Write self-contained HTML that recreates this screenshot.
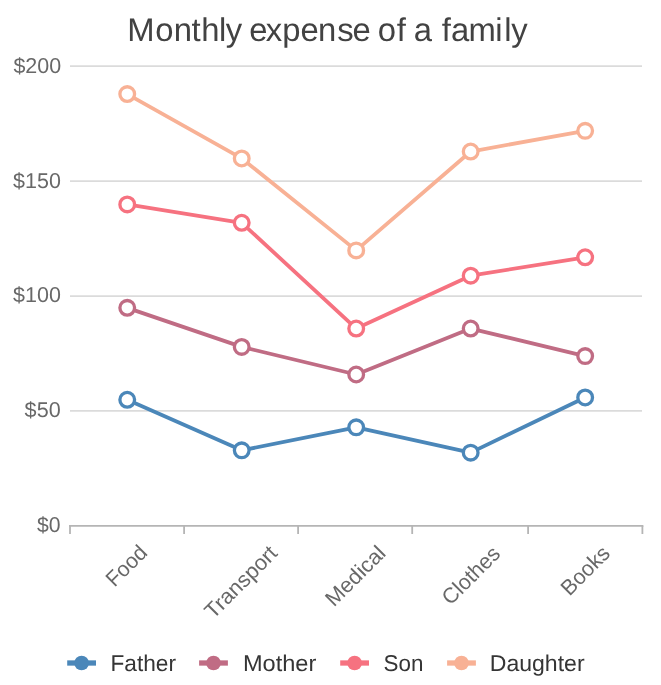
<!DOCTYPE html><html><head><meta charset="utf-8"><style>html,body{margin:0;padding:0;background:#fff;}svg{display:block;font-family:"Liberation Sans",sans-serif;will-change:transform;}text{text-rendering:geometricPrecision;}</style></head><body>
<svg width="661" height="685" viewBox="0 0 661 685">
<rect width="661" height="685" fill="#ffffff"/>
<g font-size="32.8" fill="#424242">
<text x="127.29" y="41.40">M</text>
<text x="155.23" y="41.40">o</text>
<text x="173.71" y="41.40">n</text>
<text x="191.47" y="41.40">t</text>
<text x="201.31" y="41.40">h</text>
<text x="219.10" y="41.40">l</text>
<text x="225.64" y="41.40">y</text>
<text x="249.21" y="41.40">e</text>
<text x="265.74" y="41.40">x</text>
<text x="282.26" y="41.40">p</text>
<text x="300.41" y="41.40">e</text>
<text x="318.11" y="41.40">n</text>
<text x="337.14" y="41.40">s</text>
<text x="352.61" y="41.40">e</text>
<text x="377.68" y="41.40">o</text>
<text x="396.84" y="41.40">f</text>
<text x="413.68" y="41.40">a</text>
<text x="441.69" y="41.40">f</text>
<text x="450.88" y="41.40">a</text>
<text x="468.58" y="41.40">m</text>
<text x="495.16" y="41.40">i</text>
<text x="504.25" y="41.40">l</text>
<text x="511.14" y="41.40">y</text>
</g>
<line x1="70.0" x2="642.0" y1="410.97" y2="410.97" stroke="#dbdbdb" stroke-width="1.7"/>
<line x1="70.0" x2="642.0" y1="296.05" y2="296.05" stroke="#dbdbdb" stroke-width="1.7"/>
<line x1="70.0" x2="642.0" y1="181.12" y2="181.12" stroke="#dbdbdb" stroke-width="1.7"/>
<line x1="70.0" x2="642.0" y1="66.20" y2="66.20" stroke="#dbdbdb" stroke-width="1.7"/>
<line x1="69.0" x2="643.4" y1="525.9" y2="525.9" stroke="#b5b5b5" stroke-width="1.8"/>
<line x1="70.00" x2="70.00" y1="525.9" y2="534.0" stroke="#b5b5b5" stroke-width="1.8"/>
<line x1="184.10" x2="184.10" y1="525.9" y2="534.0" stroke="#b5b5b5" stroke-width="1.8"/>
<line x1="298.10" x2="298.10" y1="525.9" y2="534.0" stroke="#b5b5b5" stroke-width="1.8"/>
<line x1="412.20" x2="412.20" y1="525.9" y2="534.0" stroke="#b5b5b5" stroke-width="1.8"/>
<line x1="528.10" x2="528.10" y1="525.9" y2="534.0" stroke="#b5b5b5" stroke-width="1.8"/>
<line x1="642.40" x2="642.40" y1="525.9" y2="534.0" stroke="#b5b5b5" stroke-width="1.8"/>
<text x="36.91" y="532.30" font-size="21.4" fill="#686868" textLength="23.59" lengthAdjust="spacingAndGlyphs">$0</text>
<text x="24.64" y="417.37" font-size="21.4" fill="#686868" textLength="36.05" lengthAdjust="spacingAndGlyphs">$50</text>
<text x="13.10" y="302.45" font-size="21.4" fill="#686868" textLength="47.82" lengthAdjust="spacingAndGlyphs">$100</text>
<text x="13.10" y="187.53" font-size="21.4" fill="#686868" textLength="47.82" lengthAdjust="spacingAndGlyphs">$150</text>
<text x="13.40" y="72.60" font-size="21.4" fill="#686868" textLength="47.77" lengthAdjust="spacingAndGlyphs">$200</text>
<text transform="translate(126.95,566.35) rotate(-45)" x="0" y="6.38" text-anchor="middle" font-size="21.6" fill="#686868" textLength="47.99" lengthAdjust="spacingAndGlyphs">Food</text>
<text transform="translate(241.48,582.65) rotate(-45)" x="0" y="6.38" text-anchor="middle" font-size="21.6" fill="#686868" textLength="92.33" lengthAdjust="spacingAndGlyphs">Transport</text>
<text transform="translate(355.95,576.50) rotate(-45)" x="0" y="6.38" text-anchor="middle" font-size="21.6" fill="#686868" textLength="74.83" lengthAdjust="spacingAndGlyphs">Medical</text>
<text transform="translate(471.55,576.00) rotate(-45)" x="0" y="6.38" text-anchor="middle" font-size="21.6" fill="#686868" textLength="72.00" lengthAdjust="spacingAndGlyphs">Clothes</text>
<text transform="translate(585.80,571.20) rotate(-45)" x="0" y="6.38" text-anchor="middle" font-size="21.6" fill="#686868" textLength="59.22" lengthAdjust="spacingAndGlyphs">Books</text>
<polyline points="127.24,399.78 241.72,450.35 356.20,427.36 470.68,452.65 585.16,397.48" fill="none" stroke="#4b87b9" stroke-width="3.8" stroke-linejoin="round" stroke-linecap="round"/>
<circle cx="127.24" cy="399.78" r="7.35" fill="#fff" stroke="#4b87b9" stroke-width="3.3"/>
<circle cx="241.72" cy="450.35" r="7.35" fill="#fff" stroke="#4b87b9" stroke-width="3.3"/>
<circle cx="356.20" cy="427.36" r="7.35" fill="#fff" stroke="#4b87b9" stroke-width="3.3"/>
<circle cx="470.68" cy="452.65" r="7.35" fill="#fff" stroke="#4b87b9" stroke-width="3.3"/>
<circle cx="585.16" cy="397.48" r="7.35" fill="#fff" stroke="#4b87b9" stroke-width="3.3"/>
<polyline points="127.24,307.84 241.72,346.92 356.20,374.50 470.68,328.53 585.16,356.11" fill="none" stroke="#c06c84" stroke-width="3.8" stroke-linejoin="round" stroke-linecap="round"/>
<circle cx="127.24" cy="307.84" r="7.35" fill="#fff" stroke="#c06c84" stroke-width="3.3"/>
<circle cx="241.72" cy="346.92" r="7.35" fill="#fff" stroke="#c06c84" stroke-width="3.3"/>
<circle cx="356.20" cy="374.50" r="7.35" fill="#fff" stroke="#c06c84" stroke-width="3.3"/>
<circle cx="470.68" cy="328.53" r="7.35" fill="#fff" stroke="#c06c84" stroke-width="3.3"/>
<circle cx="585.16" cy="356.11" r="7.35" fill="#fff" stroke="#c06c84" stroke-width="3.3"/>
<polyline points="127.24,204.41 241.72,222.80 356.20,328.53 470.68,275.66 585.16,257.28" fill="none" stroke="#f67280" stroke-width="3.8" stroke-linejoin="round" stroke-linecap="round"/>
<circle cx="127.24" cy="204.41" r="7.35" fill="#fff" stroke="#f67280" stroke-width="3.3"/>
<circle cx="241.72" cy="222.80" r="7.35" fill="#fff" stroke="#f67280" stroke-width="3.3"/>
<circle cx="356.20" cy="328.53" r="7.35" fill="#fff" stroke="#f67280" stroke-width="3.3"/>
<circle cx="470.68" cy="275.66" r="7.35" fill="#fff" stroke="#f67280" stroke-width="3.3"/>
<circle cx="585.16" cy="257.28" r="7.35" fill="#fff" stroke="#f67280" stroke-width="3.3"/>
<polyline points="127.24,94.08 241.72,158.44 356.20,250.38 470.68,151.54 585.16,130.86" fill="none" stroke="#f8b195" stroke-width="3.8" stroke-linejoin="round" stroke-linecap="round"/>
<circle cx="127.24" cy="94.08" r="7.35" fill="#fff" stroke="#f8b195" stroke-width="3.3"/>
<circle cx="241.72" cy="158.44" r="7.35" fill="#fff" stroke="#f8b195" stroke-width="3.3"/>
<circle cx="356.20" cy="250.38" r="7.35" fill="#fff" stroke="#f8b195" stroke-width="3.3"/>
<circle cx="470.68" cy="151.54" r="7.35" fill="#fff" stroke="#f8b195" stroke-width="3.3"/>
<circle cx="585.16" cy="130.86" r="7.35" fill="#fff" stroke="#f8b195" stroke-width="3.3"/>
<line x1="67.20" x2="96.00" y1="663.0" y2="663.0" stroke="#4b87b9" stroke-width="5.3"/>
<circle cx="81.60" cy="663.0" r="7.3" fill="#4b87b9"/>
<text x="110.51" y="670.7" font-size="22.9" fill="#353535" textLength="65.48" lengthAdjust="spacingAndGlyphs">Father</text>
<line x1="199.10" x2="227.90" y1="663.0" y2="663.0" stroke="#c06c84" stroke-width="5.3"/>
<circle cx="213.50" cy="663.0" r="7.3" fill="#c06c84"/>
<text x="242.90" y="670.7" font-size="22.9" fill="#353535" textLength="73.41" lengthAdjust="spacingAndGlyphs">Mother</text>
<line x1="340.20" x2="369.00" y1="663.0" y2="663.0" stroke="#f67280" stroke-width="5.3"/>
<circle cx="354.60" cy="663.0" r="7.3" fill="#f67280"/>
<text x="383.61" y="670.7" font-size="22.9" fill="#353535" textLength="39.86" lengthAdjust="spacingAndGlyphs">Son</text>
<line x1="447.10" x2="475.90" y1="663.0" y2="663.0" stroke="#f8b195" stroke-width="5.3"/>
<circle cx="461.50" cy="663.0" r="7.3" fill="#f8b195"/>
<text x="489.76" y="670.7" font-size="22.9" fill="#353535" textLength="94.86" lengthAdjust="spacingAndGlyphs">Daughter</text>
</svg></body></html>
